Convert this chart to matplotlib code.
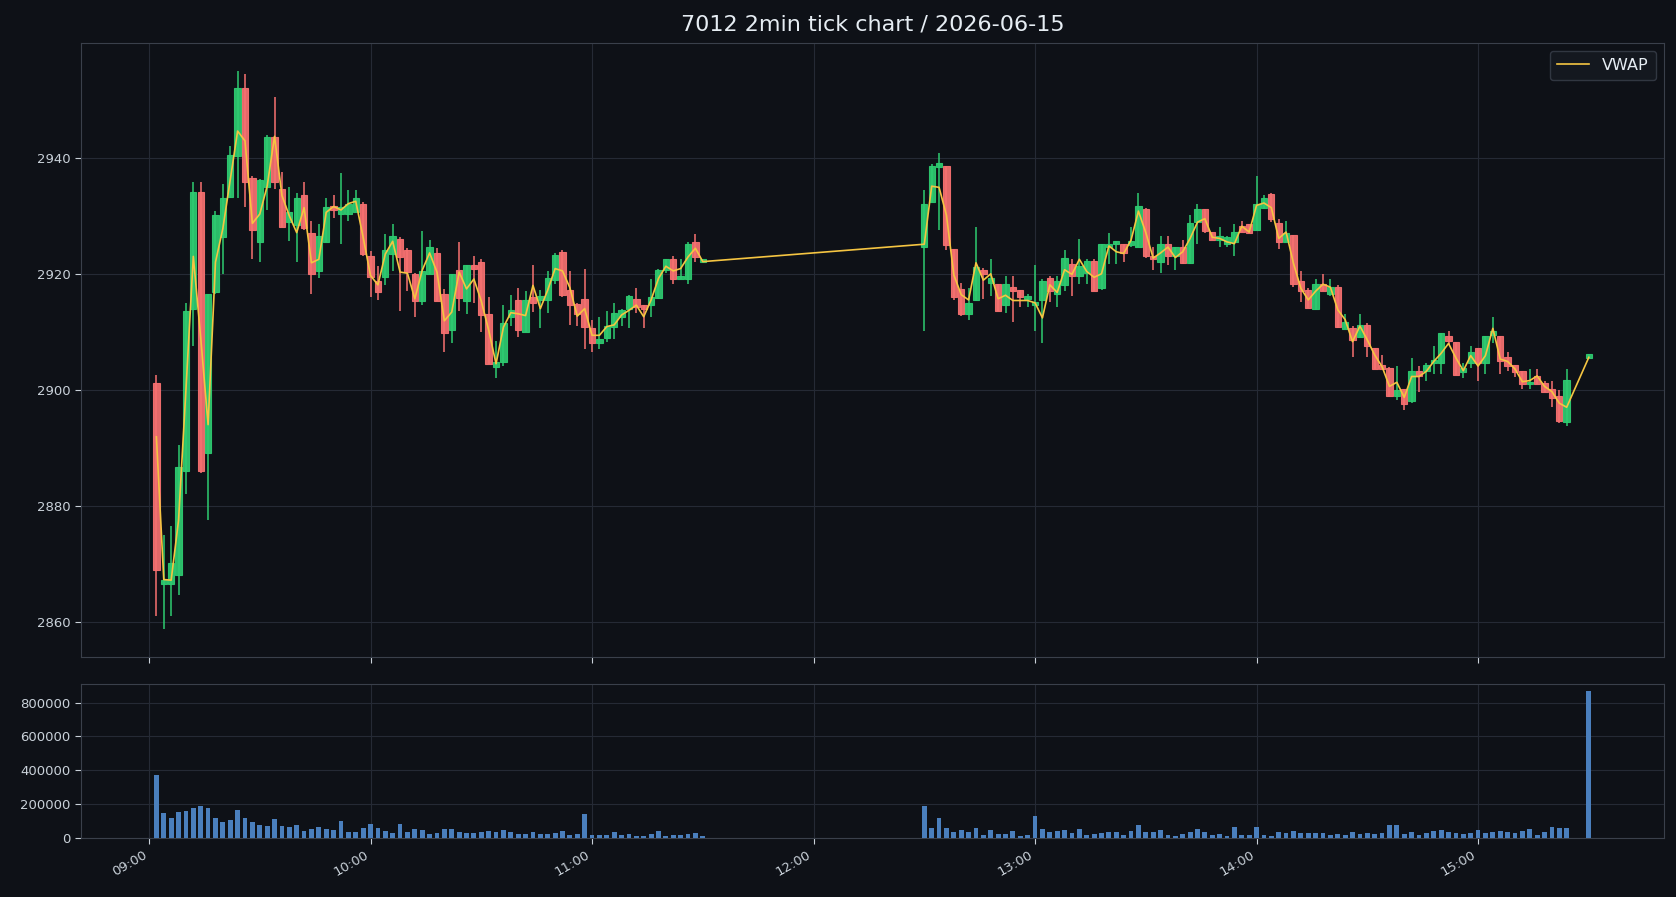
#!/usr/bin/env python3

"""."""
import numpy as np
import pandas as pd
import matplotlib
matplotlib.use('Agg')
from matplotlib import pyplot as plt
import matplotlib.dates as mdates


TITLE = '7012 2min tick chart / 2026-06-15'

# morning session 09:02 .. 11:30 (2 min candles)
am_open = [2901.2, 2866.5, 2866.5, 2868.1, 2886.0, 2914.0, 2934.1, 2889.1, 2916.8, 2926.3,
           2933.3, 2940.3, 2952.0, 2936.5, 2925.4, 2935.0, 2943.6, 2934.7, 2928.9, 2928.4,
           2933.6, 2927.1, 2920.4, 2925.4, 2931.7, 2930.3, 2930.3, 2930.6, 2932.0, 2923.1,
           2918.7, 2919.4, 2923.4, 2926.0, 2924.1, 2919.9, 2915.3, 2919.9, 2923.6, 2916.6,
           2910.3, 2920.6, 2915.3, 2921.5, 2922.1, 2913.1, 2904.0, 2904.8, 2912.5, 2915.5,
           2909.9, 2916.0, 2915.5, 2915.5, 2918.9, 2923.7, 2917.2, 2914.8, 2915.6, 2910.6,
           2908.0, 2909.0, 2910.9, 2912.5, 2914.0, 2915.6, 2914.6, 2914.6, 2915.9, 2920.6,
           2922.6, 2919.1, 2919.1, 2925.5, 2922.0]
am_high = [2902.5, 2874.9, 2876.5, 2890.5, 2914.9, 2935.9, 2935.9, 2916.6, 2930.8, 2935.4,
           2942.0, 2955.0, 2954.5, 2936.9, 2936.4, 2944.0, 2950.4, 2937.5, 2935.0, 2934.0,
           2935.9, 2929.1, 2928.5, 2933.0, 2933.5, 2937.4, 2934.4, 2934.4, 2932.4, 2924.0,
           2921.4, 2926.9, 2928.5, 2926.4, 2924.5, 2920.1, 2927.4, 2925.9, 2924.5, 2917.4,
           2920.0, 2925.4, 2921.5, 2923.0, 2922.5, 2916.0, 2908.5, 2914.6, 2916.4, 2917.5,
           2917.0, 2921.5, 2917.2, 2920.5, 2923.6, 2924.1, 2920.5, 2914.9, 2920.9, 2912.0,
           2912.5, 2913.6, 2914.9, 2914.0, 2916.4, 2917.5, 2914.6, 2919.1, 2920.9, 2922.6,
           2923.0, 2922.5, 2925.4, 2926.9, 2922.6]
am_low = [2861.1, 2858.7, 2861.1, 2864.6, 2882.1, 2907.5, 2885.6, 2877.6, 2916.5, 2919.9,
          2933.1, 2933.1, 2931.5, 2922.6, 2922.0, 2931.0, 2934.6, 2928.0, 2925.6, 2922.0,
          2927.5, 2916.5, 2919.2, 2925.4, 2929.7, 2925.2, 2929.1, 2930.6, 2923.1, 2916.0,
          2915.4, 2918.0, 2920.5, 2913.6, 2917.0, 2912.6, 2914.6, 2919.9, 2915.3, 2906.5,
          2908.1, 2913.6, 2913.1, 2915.0, 2910.0, 2904.5, 2902.0, 2904.1, 2911.0, 2909.1,
          2909.9, 2913.5, 2910.6, 2913.2, 2918.2, 2916.0, 2911.2, 2911.0, 2907.1, 2906.6,
          2907.1, 2908.2, 2908.7, 2911.0, 2910.6, 2913.2, 2910.6, 2912.6, 2915.6, 2920.1,
          2918.2, 2919.1, 2918.2, 2922.1, 2922.0]
am_close = [2869.0, 2867.2, 2870.2, 2886.7, 2913.6, 2934.1, 2886.0, 2916.6, 2930.2, 2933.1,
            2940.5, 2952.0, 2935.9, 2927.5, 2936.1, 2943.6, 2935.9, 2928.0, 2930.6, 2933.1,
            2927.9, 2919.9, 2926.6, 2931.5, 2931.0, 2931.5, 2932.0, 2933.1, 2923.4, 2919.5,
            2916.8, 2924.1, 2926.5, 2922.9, 2920.3, 2915.3, 2920.5, 2924.7, 2915.3, 2909.8,
            2920.0, 2915.8, 2921.5, 2920.9, 2912.9, 2904.5, 2904.8, 2911.6, 2913.7, 2910.4,
            2915.5, 2914.9, 2916.2, 2919.2, 2923.2, 2916.3, 2914.6, 2913.1, 2910.9, 2908.0,
            2908.7, 2911.0, 2913.2, 2913.7, 2916.2, 2914.3, 2913.9, 2916.0, 2920.6, 2922.6,
            2919.1, 2919.7, 2925.2, 2922.9, 2922.6]
am_vwap = [2891.9, 2867.3, 2867.2, 2877.5, 2900.0, 2923.0, 2909.0, 2894.0, 2922.0, 2927.8,
           2936.2, 2944.6, 2942.9, 2928.7, 2930.3, 2935.1, 2943.7, 2933.5, 2930.0, 2927.1,
           2931.4, 2921.9, 2922.5, 2930.6, 2931.6, 2931.0, 2932.1, 2932.5, 2926.3, 2919.7,
           2918.1, 2923.4, 2925.6, 2920.3, 2920.1, 2915.7, 2920.6, 2923.6, 2920.3, 2911.9,
           2913.4, 2920.3, 2917.4, 2919.1, 2915.3, 2910.3, 2904.5, 2910.8, 2913.3, 2913.1,
           2912.8, 2918.0, 2914.0, 2917.2, 2920.9, 2920.5, 2917.6, 2912.7, 2914.0, 2909.4,
           2909.4, 2910.9, 2911.2, 2912.9, 2913.7, 2914.6, 2912.6, 2915.5, 2919.2, 2921.3,
           2920.5, 2920.9, 2922.9, 2924.4, 2922.1]
am_volume = [374000, 148000, 119000, 154000, 160000, 178000, 190000, 178000, 119000, 95000,
             107000, 166000, 119000, 95000, 77000, 71000, 113000, 71000, 65000, 77000,
             42000, 53000, 65000, 53000, 48000, 101000, 36000, 36000, 59000, 83000,
             59000, 42000, 30000, 83000, 36000, 53000, 48000, 24000, 30000, 53000,
             53000, 36000, 30000, 30000, 36000, 42000, 36000, 48000, 36000, 24000,
             24000, 36000, 24000, 24000, 30000, 42000, 18000, 24000, 143000, 18000,
             18000, 18000, 36000, 18000, 24000, 12000, 12000, 24000, 42000, 12000,
             18000, 18000, 24000, 30000, 12000]

# afternoon session 12:30 .. 15:24, then closing auction at 15:30
pm_open = [2924.6, 2932.4, 2938.4, 2938.6, 2924.2, 2917.3, 2913.1, 2915.4, 2920.6, 2918.5,
           2918.2, 2914.6, 2917.8, 2917.2, 2915.7, 2914.6, 2915.4, 2919.3, 2916.6, 2918.0,
           2921.7, 2919.7, 2920.1, 2922.2, 2917.5, 2924.6, 2925.1, 2925.2, 2925.0, 2924.6,
           2931.1, 2923.0, 2922.0, 2925.2, 2923.1, 2924.7, 2921.9, 2928.9, 2931.1, 2927.2,
           2925.8, 2925.2, 2925.4, 2928.2, 2928.5, 2927.5, 2931.4, 2933.7, 2928.7, 2925.4,
           2926.7, 2918.7, 2917.2, 2914.0, 2918.2, 2916.5, 2917.7, 2910.5, 2910.6, 2909.1,
           2911.2, 2907.2, 2904.3, 2903.7, 2899.0, 2900.1, 2898.0, 2903.3, 2903.2, 2904.6,
           2904.6, 2909.3, 2908.2, 2903.0, 2904.6, 2907.2, 2904.6, 2909.5, 2909.3, 2905.6,
           2904.2, 2903.3, 2901.0, 2902.4, 2901.1, 2900.1, 2898.9, 2894.5, 2905.5]
pm_high = [2934.5, 2939.0, 2940.9, 2938.6, 2924.2, 2918.5, 2917.5, 2928.0, 2921.0, 2922.5,
           2918.2, 2919.7, 2919.7, 2917.2, 2916.5, 2921.5, 2919.1, 2919.7, 2919.7, 2924.1,
           2922.5, 2926.0, 2922.6, 2922.6, 2925.2, 2927.0, 2925.6, 2925.2, 2928.0, 2934.0,
           2931.4, 2924.6, 2926.5, 2926.5, 2924.7, 2925.9, 2930.1, 2932.0, 2931.1, 2927.2,
           2928.0, 2926.5, 2928.5, 2929.1, 2928.5, 2936.9, 2933.5, 2934.0, 2929.5, 2929.1,
           2926.7, 2920.5, 2917.5, 2919.1, 2919.9, 2919.1, 2918.1, 2913.1, 2911.0, 2913.1,
           2911.5, 2907.2, 2906.0, 2904.0, 2904.1, 2900.1, 2905.5, 2904.1, 2904.6, 2907.6,
           2909.8, 2910.1, 2908.2, 2904.6, 2907.5, 2907.2, 2909.2, 2912.6, 2909.3, 2906.5,
           2904.2, 2903.3, 2903.6, 2903.6, 2901.6, 2901.6, 2900.0, 2903.6, 2906.1]
pm_low = [2910.1, 2932.4, 2927.5, 2924.1, 2915.5, 2912.7, 2912.1, 2915.3, 2915.7, 2916.1,
          2913.6, 2913.3, 2911.7, 2914.3, 2914.3, 2910.1, 2908.0, 2915.1, 2914.3, 2917.1,
          2916.1, 2918.2, 2918.2, 2917.1, 2917.2, 2921.7, 2921.7, 2922.1, 2924.7, 2924.6,
          2922.7, 2920.6, 2920.1, 2921.5, 2920.6, 2921.7, 2921.7, 2925.2, 2927.1, 2925.9,
          2924.7, 2924.7, 2923.1, 2927.2, 2927.0, 2927.5, 2931.1, 2928.9, 2924.2, 2925.4,
          2917.7, 2915.1, 2914.1, 2913.7, 2917.0, 2916.2, 2910.6, 2910.5, 2905.6, 2909.1,
          2905.6, 2903.6, 2903.6, 2898.7, 2898.2, 2896.6, 2897.7, 2899.7, 2901.6, 2902.8,
          2902.7, 2907.8, 2902.5, 2902.1, 2903.7, 2901.6, 2902.7, 2908.1, 2902.7, 2903.2,
          2902.2, 2900.1, 2900.1, 2901.0, 2899.6, 2897.1, 2894.3, 2893.7, 2905.5]
pm_close = [2932.1, 2938.6, 2939.1, 2925.0, 2916.0, 2913.1, 2914.9, 2921.1, 2920.0, 2919.3,
            2913.6, 2918.3, 2917.0, 2916.0, 2916.2, 2915.1, 2918.7, 2917.0, 2918.8, 2922.7,
            2919.7, 2921.3, 2922.2, 2917.1, 2925.2, 2925.2, 2925.6, 2923.5, 2925.6, 2931.6,
            2923.0, 2922.5, 2925.2, 2923.0, 2924.7, 2921.9, 2928.7, 2931.1, 2927.4, 2925.9,
            2926.5, 2926.3, 2927.2, 2927.2, 2927.0, 2932.1, 2933.1, 2929.5, 2925.4, 2927.1,
            2918.2, 2917.0, 2914.1, 2918.2, 2917.0, 2917.7, 2910.9, 2911.7, 2908.6, 2911.2,
            2907.5, 2903.6, 2903.6, 2899.0, 2900.0, 2897.5, 2903.3, 2902.4, 2904.3, 2905.2,
            2909.8, 2908.5, 2902.5, 2903.7, 2906.6, 2904.6, 2909.2, 2910.2, 2905.0, 2904.1,
            2903.0, 2901.0, 2901.4, 2901.0, 2899.6, 2898.6, 2894.7, 2901.7, 2906.1]
pm_vwap = [2925.1, 2935.1, 2934.9, 2930.1, 2919.8, 2916.4, 2915.5, 2921.9, 2918.9, 2920.0,
           2915.7, 2916.3, 2915.4, 2915.4, 2915.4, 2915.0, 2912.4, 2918.1, 2916.8, 2920.7,
           2919.9, 2922.5, 2920.4, 2919.4, 2920.0, 2924.8, 2923.8, 2923.5, 2925.8, 2930.8,
           2927.1, 2922.7, 2923.6, 2924.6, 2922.8, 2923.8, 2926.1, 2928.9, 2929.5, 2926.3,
           2926.1, 2925.5, 2925.2, 2928.2, 2927.2, 2931.8, 2932.2, 2931.4, 2926.1, 2927.2,
           2921.8, 2917.5, 2915.5, 2917.0, 2918.2, 2917.7, 2913.8, 2912.1, 2908.3, 2911.0,
           2908.6, 2906.0, 2904.0, 2900.6, 2901.3, 2898.7, 2902.3, 2902.3, 2903.2, 2904.9,
           2906.3, 2908.0, 2905.5, 2903.3, 2905.9, 2904.1, 2905.9, 2910.6, 2905.3, 2904.9,
           2903.6, 2901.4, 2901.6, 2902.4, 2900.6, 2899.7, 2897.7, 2897.0, 2905.6]
pm_volume = [190000, 59000, 119000, 59000, 36000, 48000, 36000, 59000, 18000, 48000,
             24000, 24000, 42000, 12000, 18000, 131000, 53000, 36000, 42000, 48000,
             30000, 53000, 18000, 24000, 30000, 36000, 36000, 18000, 42000, 77000,
             36000, 36000, 48000, 18000, 12000, 24000, 36000, 53000, 36000, 18000,
             24000, 12000, 65000, 18000, 18000, 65000, 18000, 12000, 36000, 30000,
             42000, 30000, 30000, 30000, 30000, 18000, 24000, 18000, 36000, 24000,
             30000, 24000, 30000, 77000, 77000, 24000, 36000, 18000, 30000, 42000,
             48000, 36000, 30000, 24000, 30000, 48000, 30000, 36000, 42000, 36000,
             30000, 42000, 53000, 18000, 36000, 65000, 59000, 59000, 867000]

BG = '#0e1117'
TXT = '#c9d1d9'
EDGE = '#3a404b'
GRID = '#252a35'
UP = '#2ecc71'
DOWN = '#f87171'
VWAP_C = '#f5c542'
VOL_C = '#4a7fbd'


def build_frame():
    """."""
    t_am = pd.date_range('2026-06-15 09:02', '2026-06-15 11:30', freq='2min')
    t_pm = pd.date_range('2026-06-15 12:30', '2026-06-15 15:24', freq='2min')
    t_pm = t_pm.append(pd.DatetimeIndex([pd.Timestamp('2026-06-15 15:30')]))
    df = pd.DataFrame({
        'open': am_open + pm_open,
        'high': am_high + pm_high,
        'low': am_low + pm_low,
        'close': am_close + pm_close,
        'vwap': am_vwap + pm_vwap,
        'volume': am_volume + pm_volume,
    }, index=t_am.append(t_pm))
    return df


def plot_chart(df):
    """."""
    fig = plt.figure(figsize=(16.76, 8.97), dpi=100, facecolor=BG)
    ax = fig.add_axes([0.0485, 0.2671, 0.9443, 0.6852], facecolor=BG)
    axv = fig.add_axes([0.0485, 0.0658, 0.9443, 0.1717], facecolor=BG,
                       sharex=ax)

    x = mdates.date2num(df.index.to_pydatetime())
    step = 2 / 1440
    up = df['close'].values >= df['open'].values
    colors = np.where(up, UP, DOWN)

    # wicks
    ax.vlines(x, df['low'], df['high'], colors=colors, linewidth=1.1,
              zorder=2)
    # bodies
    bottom = np.minimum(df['open'], df['close'])
    height = np.maximum(np.abs(df['close'] - df['open']), 0.25)
    ax.bar(x, height, bottom=bottom, width=step * 0.86, color=colors,
           edgecolor=colors, linewidth=0.8, alpha=0.92, zorder=3)

    ax.plot(x, df['vwap'], color=VWAP_C, linewidth=1.2, label='VWAP',
            zorder=4)

    axv.bar(x, df['volume'], width=step * 0.65, color=VOL_C, zorder=3)

    for a in (ax, axv):
        a.grid(True, color=GRID, linewidth=0.8)
        a.set_axisbelow(True)
        for sp in a.spines.values():
            sp.set_color(EDGE)
        a.tick_params(colors=TXT, labelsize=9.5, length=4)

    ax.tick_params(axis='x', labelbottom=False)
    axv.xaxis.set_major_locator(mdates.HourLocator())
    axv.xaxis.set_major_formatter(mdates.DateFormatter('%H:%M'))
    for lbl in axv.get_xticklabels():
        lbl.set_rotation(30)
        lbl.set_horizontalalignment('right')
    axv.ticklabel_format(style='plain', axis='y')
    axv.set_ylim(bottom=0)

    leg = ax.legend(loc='upper right', fontsize=11.5, facecolor='#161b22',
                    edgecolor=EDGE, labelcolor='#e6edf3', borderpad=0.45)
    leg.get_frame().set_linewidth(1.0)

    ax.set_title(TITLE, color='#e6edf3', fontsize=16, pad=9)
    fig.savefig('out.png', dpi=100, facecolor=BG)


plot_chart(build_frame())
